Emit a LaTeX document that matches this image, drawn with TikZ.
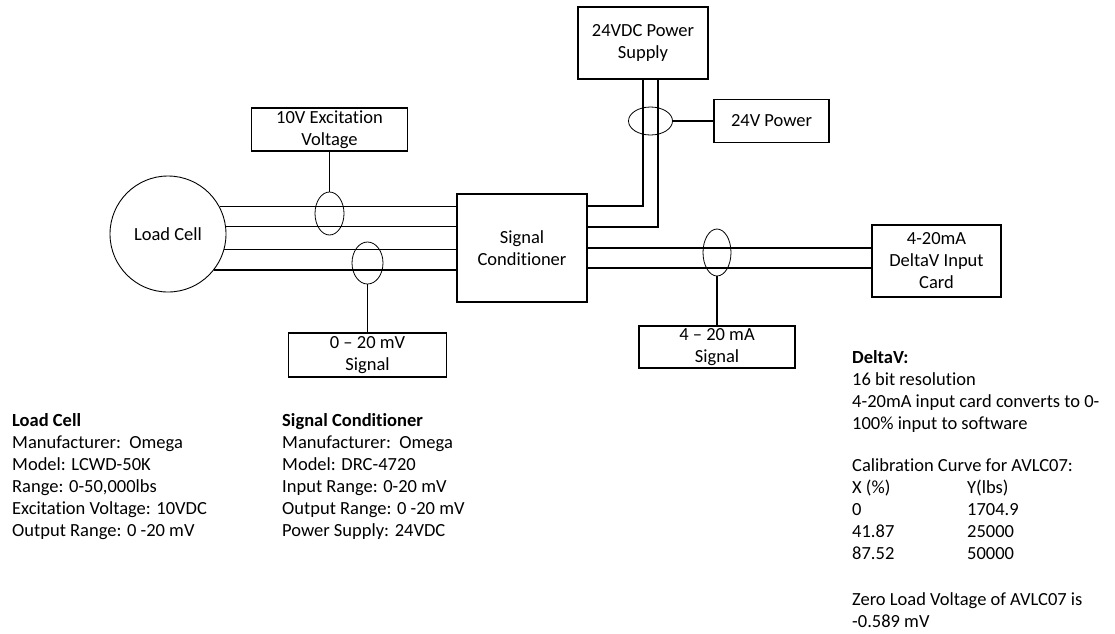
\documentclass[tikz,border=0pt]{standalone}
\usepackage{fontspec}
\setmainfont{Carlito}[Ligatures={TeX,NoCommon}]
\usetikzlibrary{shapes.geometric}

\begin{document}
\begin{tikzpicture}[x=1pt,y=-1pt,
    every node/.style={font=\fontsize{18.5pt}{22pt}\selectfont},
    box/.style={draw,line width=1.2pt,inner sep=0pt,align=center},
    bundle/.style={draw,ellipse,line width=0.8pt,inner sep=0pt},
    wire/.style={line width=1.2pt},
    note/.style={anchor=north west,inner sep=0pt,align=left}]
        \useasboundingbox (0,0) rectangle (1115,633);

        % load cell and conditioner
        \node[draw,circle,line width=0.9pt,minimum size=116pt] (lc) at (168,234) {Load Cell};
        \node[box,minimum width=130pt,minimum height=108pt] (sc) at (522,248) {Signal\\Conditioner};

        % cable bundles
        \node[bundle,minimum width=29pt,minimum height=43pt] (e1) at (329.5,213.5) {};
        \node[bundle,minimum width=31pt,minimum height=42pt] (e2) at (367.5,263) {};
        \node[bundle,minimum width=44pt,minimum height=28pt] (e3) at (650.5,121) {};
        \node[bundle,minimum width=28pt,minimum height=47pt] (e4) at (717,252.5) {};

        % labels of the bundles
        \node[box,minimum width=156pt,minimum height=43pt] (exc) at (329.5,129.5) {10V Excitation\\Voltage};
        \node[box,minimum width=158pt,minimum height=44pt] (mv) at (367.5,355) {0 – 20 mV\\Signal};
        \node[box,minimum width=115pt,minimum height=43pt] (pwr) at (771.5,121) {24V Power};
        \node[box,minimum width=156pt,minimum height=42pt] (ma) at (717,347) {4 – 20 mA\\Signal};

        % supply and input card
        \node[box,minimum width=130pt,minimum height=72pt] (psu) at (643,43) {24VDC Power\\Supply};
        \node[box,minimum width=129pt,minimum height=72pt] (card) at (936.5,261) {4-20mA\\DeltaV Input\\Card};

        % four wires load cell -> conditioner
        \foreach \a in {28,7,-15,-38}
            \draw[wire] (lc.\a) -- (lc.\a -| sc.west);

        % power wires
        \draw[wire] ([yshift=42pt]sc.east) -| (psu.south);
        \draw[wire] ([yshift=21pt]sc.east) -| ([xshift=15pt]psu.south);

        % output to DeltaV
        \draw[wire] (sc.east) -- (sc.east -| card.west);
        \draw[wire] ([yshift=-20pt]sc.east) -- ([yshift=-20pt]sc.east -| card.west);

        % bundle -> label
        \draw[wire] (exc) -- (e1);
        \draw[wire] (e2) -- (mv);
        \draw[wire] (e3) -- (pwr);
        \draw[wire] (e4) -- (ma);

        % data notes
        \node[note] (lcnote) at (12,413) {\textbf{Load Cell}\\Manufacturer:\ \ Omega\\Model: LCWD-50K\\Range: 0-50,000lbs\\Excitation Voltage: 10VDC\\Output Range: 0 -20 mV};
        \node[note] (scnote) at (282,413) {\textbf{Signal Conditioner}\\Manufacturer:\ \ Omega\\Model: DRC-4720\\Input Range: 0-20 mV\\Output Range: 0 -20 mV\\Power Supply: 24VDC};
        \node[note] (dvnote) at (852,350) {\textbf{DeltaV:}\\16 bit resolution\\4-20mA input card converts to 0-\\100\% input to software\\[20pt]
            Calibration Curve for AVLC07:\\
            \makebox[115pt][l]{X (\%)}Y(lbs)\\
            \makebox[115pt][l]{0}1704.9\\
            \makebox[115pt][l]{41.87}25000\\
            \makebox[115pt][l]{87.52}50000\\[24pt]
            Zero Load Voltage of AVLC07 is\\-0.589 mV};

    \end{tikzpicture}
\end{document}
